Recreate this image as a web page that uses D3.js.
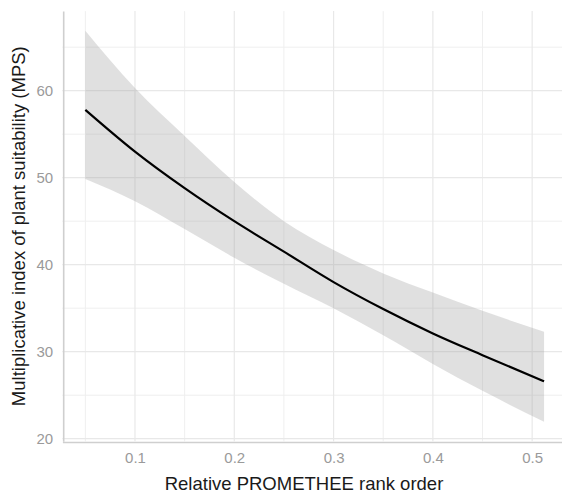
<!DOCTYPE html>
<html>
<head>
<meta charset="utf-8">
<script src="https://cdn.jsdelivr.net/npm/d3@7"></script>
<style>
  body { margin: 0; background: #fff; }
  svg { display: block; font-family: "Liberation Sans", Arial, sans-serif; }
</style>
</head>
<body>
<div id="chart"></div>
<script>
// values
const rankOrder = [0.05, 0.1, 0.15, 0.2, 0.25, 0.3, 0.35, 0.4, 0.45, 0.512];
const fitMPS    = [57.8, 53.0, 48.8, 45.0, 41.5, 38.0, 34.9, 32.1, 29.6, 26.6];
const upperMPS  = [66.9, 60.3, 54.8, 49.5, 45.0, 41.7, 39.0, 36.8, 34.7, 32.3];
const lowerMPS  = [49.85, 47.3, 44.1, 40.8, 37.8, 35.0, 31.9, 28.6, 25.5, 21.95];

const xMajor = [0.1, 0.2, 0.3, 0.4, 0.5];
const xMinor = [0.05, 0.15, 0.25, 0.35, 0.45, 0.55];
const yMajor = [20, 30, 40, 50, 60];
const yMinor = [25, 35, 45, 55, 65];

const W = 562, H = 493;
const panel = {left: 62.4, right: 567, top: 11.1, bottom: 441.3};

const rows = rankOrder.map((r, i) => ({x: r, fit: fitMPS[i], hi: upperMPS[i], lo: lowerMPS[i]}));

// ggplot-like 5% expansion
function expand(lo, hi) {
    const d = (hi - lo) * 0.05;
    return [lo - d, hi + d];
}
const xDom = expand(d3.min(rankOrder), d3.max(rankOrder));
const yDom = expand(d3.min(lowerMPS), d3.max(upperMPS));

const x = d3.scaleLinear().domain(xDom).range([panel.left, panel.right]);
const y = d3.scaleLinear().domain(yDom).range([panel.bottom, panel.top]);

const svg = d3.select("#chart").append("svg")
    .attr("width", W).attr("height", H);

// grid
const grid = svg.append("g");
grid.selectAll(".xmin").data(xMinor).join("line")
    .attr("x1", d => x(d)).attr("x2", d => x(d))
    .attr("y1", panel.top).attr("y2", panel.bottom)
    .attr("stroke", "#efefef").attr("stroke-width", 1);
grid.selectAll(".ymin").data(yMinor).join("line")
    .attr("y1", d => y(d)).attr("y2", d => y(d))
    .attr("x1", panel.left).attr("x2", panel.right)
    .attr("stroke", "#efefef").attr("stroke-width", 1);
grid.selectAll(".xmaj").data(xMajor).join("line")
    .attr("x1", d => x(d)).attr("x2", d => x(d))
    .attr("y1", panel.top).attr("y2", panel.bottom)
    .attr("stroke", "#e8e8e8").attr("stroke-width", 1.2);
grid.selectAll(".ymaj").data(yMajor).join("line")
    .attr("y1", d => y(d)).attr("y2", d => y(d))
    .attr("x1", panel.left).attr("x2", panel.right)
    .attr("stroke", "#e8e8e8").attr("stroke-width", 1.2);

// confidence band
const band = d3.area()
    .x(d => x(d.x)).y0(d => y(d.lo)).y1(d => y(d.hi))
    .curve(d3.curveMonotoneX);
svg.append("path").datum(rows)
    .attr("d", band)
    .attr("fill", "#999999").attr("fill-opacity", 0.3);

// fitted line
const line = d3.line()
    .x(d => x(d.x)).y(d => y(d.fit))
    .curve(d3.curveMonotoneX);
svg.append("path").datum(rows)
    .attr("d", line)
    .attr("fill", "none").attr("stroke", "#000").attr("stroke-width", 2.2);

// axes
const xAxis = svg.append("g")
    .attr("transform", "translate(0," + (panel.bottom + 0.7) + ")")
    .call(d3.axisBottom(x).tickValues(xMajor).tickSize(0).tickPadding(10).tickFormat(d3.format(".1f")));
const yAxis = svg.append("g")
    .attr("transform", "translate(" + (panel.left + 0.8) + ",0)")
    .call(d3.axisLeft(y).tickValues(yMajor).tickSize(0).tickPadding(10));
[xAxis, yAxis].forEach(a => {
    a.select(".domain").attr("stroke", "#cfcfcf").attr("stroke-width", 1.6);
    a.selectAll("text").attr("fill", "#9a9a9a").style("font-size", "15px")
        .style("font-family", "'Liberation Sans', Arial, sans-serif");
});
xAxis.selectAll("text").attr("dy", "0.71em");

// titles
svg.append("text")
    .attr("x", 304).attr("y", 490)
    .attr("text-anchor", "middle")
    .attr("fill", "#1a1a1a").style("font-size", "18.5px")
    .text("Relative PROMETHEE rank order");
svg.append("text")
    .attr("transform", "translate(25," + ((panel.top + panel.bottom) / 2) + ") rotate(-90)")
    .attr("text-anchor", "middle")
    .attr("fill", "#1a1a1a").style("font-size", "18.5px")
    .text("Multiplicative index of plant suitability (MPS)");
</script>
</body>
</html>
